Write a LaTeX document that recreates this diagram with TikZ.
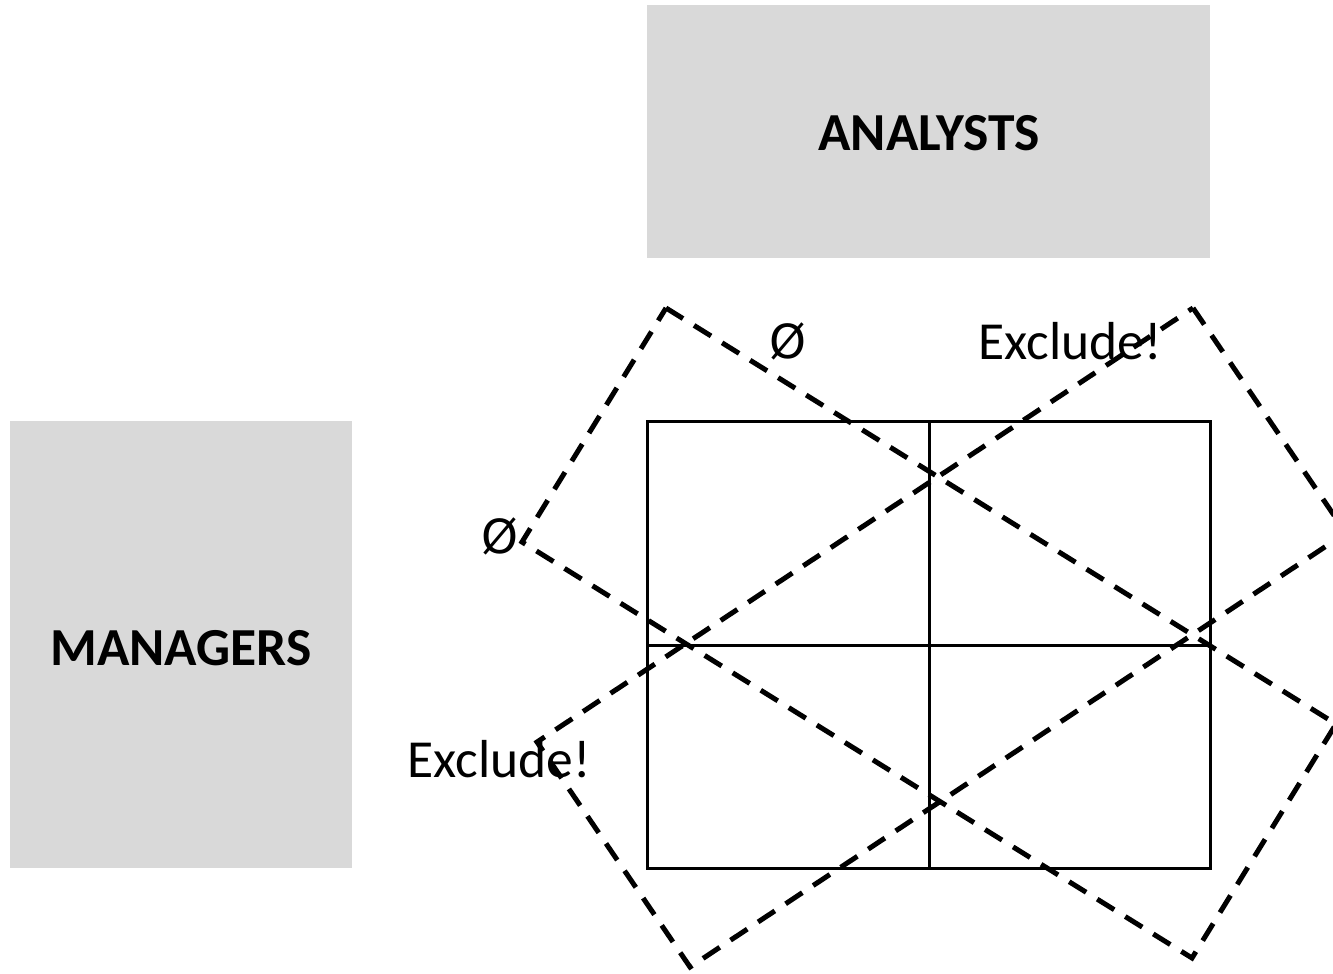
\documentclass[tikz,border=0pt]{standalone}
\usepackage{fontspec}
\setmainfont{Carlito}
\newfontfamily\symfont{DejaVu Sans}
\begin{document}
\begin{tikzpicture}[x=1pt,y=-1pt,
  greybox/.style={fill=boxgrey,draw=none},
  grid/.style={line width=3pt,line join=miter},
  dashrect/.style={line width=5pt,dash pattern=on 20pt off 13pt,line join=miter},
  lbl/.style={font=\fontsize{53.5}{60}\selectfont,inner sep=0pt},
  sym/.style={font=\symfont\fontsize{47}{52}\selectfont,inner sep=0pt},
  head/.style={font=\fontsize{53.5}{60}\selectfont\bfseries,inner sep=0pt}]
\definecolor{boxgrey}{HTML}{D9D9D9}
\useasboundingbox (0,0) rectangle (1333,974);
% grey boxes
\fill[greybox] (647,5) rectangle (1210,258);
\node[head] (analysts) at (929,133) {ANALYSTS};
\fill[greybox] (10,421) rectangle (352,868);
\node[head] (managers) at (181,648) {MANAGERS};
% grid
\draw[grid] (647,421) rectangle (1210,868);
\draw[grid] (929,421) -- (929,868);
\draw[grid] (647,645) -- (1210,645);
% dashed rectangle A
\coordinate (a1) at (666,308);
\coordinate (a2) at (1336,724);
\coordinate (a3) at (1192,958);
\coordinate (a4) at (522,542);
\draw[dashrect] (a1) -- (a2) -- (a3) -- (a4) -- cycle;
% dashed rectangle B
\coordinate (b1) at (1193,308);
\coordinate (b2) at (1346,533);
\coordinate (b3) at (690,967);
\coordinate (b4) at (537,742);
\draw[dashrect] (b1) -- (b2) -- (b3) -- (b4) -- cycle;
% labels
\node[sym] (empty1) at (788,341) {Ø};
\node[sym] (empty2) at (500,536) {Ø};
\node[lbl] (excl1) at (1070,341) {Exclude!};
\node[lbl] (excl2) at (499,759) {Exclude!};
\end{tikzpicture}
\end{document}
